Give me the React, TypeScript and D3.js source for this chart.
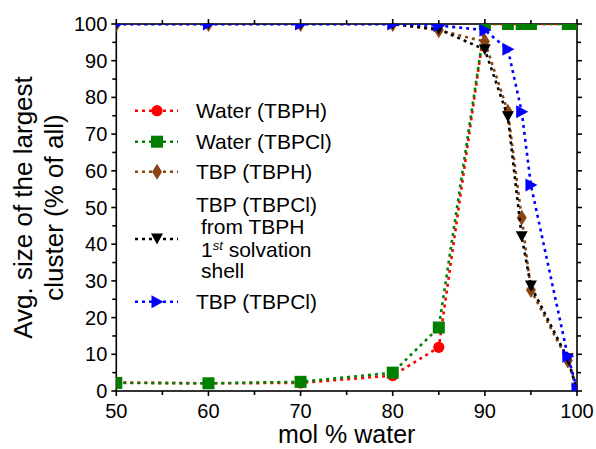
import React from "react";
import * as d3 from "d3";

// Water content (mol %)
const molWater = [50, 60, 70, 80, 85, 90, 92.5, 94, 95, 99, 100];

// Average size of the largest cluster (% of all)
const waterTBPH = [2.3, 2.1, 2.2, 4.2, 11.9, 100, 100, 100, 100, 100, 100];
const waterTBPCl = [2.2, 2.1, 2.5, 5.0, 17.3, 100, 100, 100, 100, 100, 100];
const tbpTBPH = [100, 100, 100, 100, 98.3, 95.2, 76.1, 47.2, 27.5, 8.3, 0.3];
const tbpTBPClShell = [100, 100, 100, 100, 98.6, 93.0, 74.7, 42.0, 28.6, 8.8, 0.2];
const tbpTBPCl = [100, 100, 100, 100, 99.6, 98.3, 93.1, 76.1, 56.1, 9.5, 0.6];

const xTicks = [50, 60, 70, 80, 90, 100];
const yTicks = [0, 10, 20, 30, 40, 50, 60, 70, 80, 90, 100];

type MarkerKind = "circle" | "square" | "diamond" | "triDown" | "triRight";

interface Series {
  key: string;
  values: number[];
  color: string;
  marker: MarkerKind;
}

const series: Series[] = [
  { key: "waterTBPH", values: waterTBPH, color: "#ff0000", marker: "circle" },
  { key: "waterTBPCl", values: waterTBPCl, color: "#008000", marker: "square" },
  { key: "tbpTBPH", values: tbpTBPH, color: "#8b4513", marker: "diamond" },
  { key: "tbpShell", values: tbpTBPClShell, color: "#000000", marker: "triDown" },
  { key: "tbpTBPCl", values: tbpTBPCl, color: "#0000ff", marker: "triRight" },
];

const W = 596;
const H = 449;
const left = 116.3;
const right = 577;
const top = 24;
const bottom = 391;

const FONT = "'Liberation Sans', Arial, Helvetica, sans-serif";

function Marker({ kind, cx, cy, color }: { kind: MarkerKind; cx: number; cy: number; color: string }) {
  switch (kind) {
    case "circle":
      return <circle cx={cx} cy={cy} r={5.6} fill={color} />;
    case "square":
      return <rect x={cx - 6} y={cy - 6} width={12} height={12} fill={color} />;
    case "diamond":
      return <path d={`M${cx},${cy - 8}L${cx + 5},${cy}L${cx},${cy + 8}L${cx - 5},${cy}Z`} fill={color} />;
    case "triDown":
      return <path d={`M${cx - 6},${cy - 5.5}L${cx + 6},${cy - 5.5}L${cx},${cy + 5.5}Z`} fill={color} />;
    case "triRight":
      return <path d={`M${cx - 5.5},${cy - 6.5}L${cx + 6.5},${cy}L${cx - 5.5},${cy + 6.5}Z`} fill={color} />;
  }
}

export default function App() {
  const x = d3.scaleLinear().domain([50, 100]).range([left, right]);
  const y = d3.scaleLinear().domain([0, 100]).range([bottom, top]);

  const line = d3
    .line<[number, number]>()
    .x((d) => x(d[0]))
    .y((d) => y(d[1]));

  const xMinor = d3.range(50, 101, 5);
  const yMinor = d3.range(0, 101, 5);

  const dash = "3 4";
  const lw = 2.6;

  const legendX1 = 135;
  const legendX2 = 178;
  const legendMx = 157;
  const textX = 196;
  const legendFs = 21;

  const legendRows: { s: Series; y: number }[] = [
    { s: series[0], y: 110.7 },
    { s: series[1], y: 141.7 },
    { s: series[2], y: 171.7 },
    { s: series[3], y: 239 },
    { s: series[4], y: 301.7 },
  ];

  return (
    <svg
      width={W}
      height={H}
      style={{ position: "absolute", left: 0, top: 0, display: "block", background: "#fff" }}
      fontFamily={FONT}
    >
      <defs>
        <clipPath id="plot-clip">
          <rect x={left} y={top} width={right - left} height={bottom - top} />
        </clipPath>
      </defs>
      <rect width={W} height={H} fill="#fff" />

      {/* frame */}
      <rect x={left} y={top} width={right - left} height={bottom - top} fill="none" stroke="#000" strokeWidth={1.6} />

      {/* x ticks bottom & top */}
      {xMinor.map((v) => {
        const major = v % 10 === 0;
        const len = major ? 5 : 4;
        return (
          <g key={`xt${v}`} stroke="#000" strokeWidth={1.6}>
            <line x1={x(v)} x2={x(v)} y1={bottom} y2={bottom + len} />
            <line x1={x(v)} x2={x(v)} y1={top} y2={top - len} />
          </g>
        );
      })}
      {/* y ticks left & right */}
      {yMinor.map((v) => {
        const major = v % 10 === 0;
        const len = major ? 5 : 4;
        return (
          <g key={`yt${v}`} stroke="#000" strokeWidth={1.6}>
            <line x1={left} x2={left - len} y1={y(v)} y2={y(v)} />
            <line x1={right} x2={right + len} y1={y(v)} y2={y(v)} />
          </g>
        );
      })}

      {xTicks.map((v) => (
        <text key={`xl${v}`} x={x(v)} y={bottom + 27} textAnchor="middle" fontSize={20}>
          {v}
        </text>
      ))}
      {yTicks.map((v) => (
        <text key={`yl${v}`} x={left - 9} y={y(v) + 7} textAnchor="end" fontSize={20}>
          {v}
        </text>
      ))}

      {/* axis titles */}
      <text x={(left + right) / 2} y={443} textAnchor="middle" fontSize={25}>
        mol % water
      </text>
      <g transform={`translate(0, ${(top + bottom) / 2}) rotate(-90)`}>
        <text x={0} y={32} textAnchor="middle" fontSize={26}>
          Avg. size of the largest
        </text>
        <text x={0} y={63} textAnchor="middle" fontSize={26}>
          cluster (% of all)
        </text>
      </g>

      {/* data */}
      <g clipPath="url(#plot-clip)">
        {series.map((s) => {
          const pts = molWater.map((m, i) => [m, s.values[i]] as [number, number]);
          return (
            <g key={s.key}>
              <path d={line(pts) ?? ""} fill="none" stroke={s.color} strokeWidth={lw} strokeDasharray={dash} />
              {pts.map((p, i) => (
                <Marker key={i} kind={s.marker} cx={x(p[0])} cy={y(p[1])} color={s.color} />
              ))}
            </g>
          );
        })}
      </g>

      {/* legend */}
      {legendRows.map(({ s, y: ly }) => (
        <g key={`lg${s.key}`}>
          <line x1={legendX1} x2={legendX2} y1={ly} y2={ly} stroke={s.color} strokeWidth={lw} strokeDasharray={dash} />
          <Marker kind={s.marker} cx={legendMx} cy={ly} color={s.color} />
        </g>
      ))}
      <g fontSize={legendFs}>
        <text x={textX} y={118.3}>Water (TBPH)</text>
        <text x={textX} y={149.3}>Water (TBPCl)</text>
        <text x={textX} y={179.3}>TBP (TBPH)</text>
        <text x={textX} y={212.3}>TBP (TBPCl)</text>
        <text x={textX + 5} y={233.5}>from TBPH</text>
        <text x={textX + 5} y={257}>
          1<tspan fontSize={13} fontStyle="italic" dy={-7}>st</tspan>
          <tspan dy={7}> solvation</tspan>
        </text>
        <text x={textX + 5} y={278.3}>shell</text>
        <text x={textX} y={309.3}>TBP (TBPCl)</text>
      </g>
    </svg>
  );
}
